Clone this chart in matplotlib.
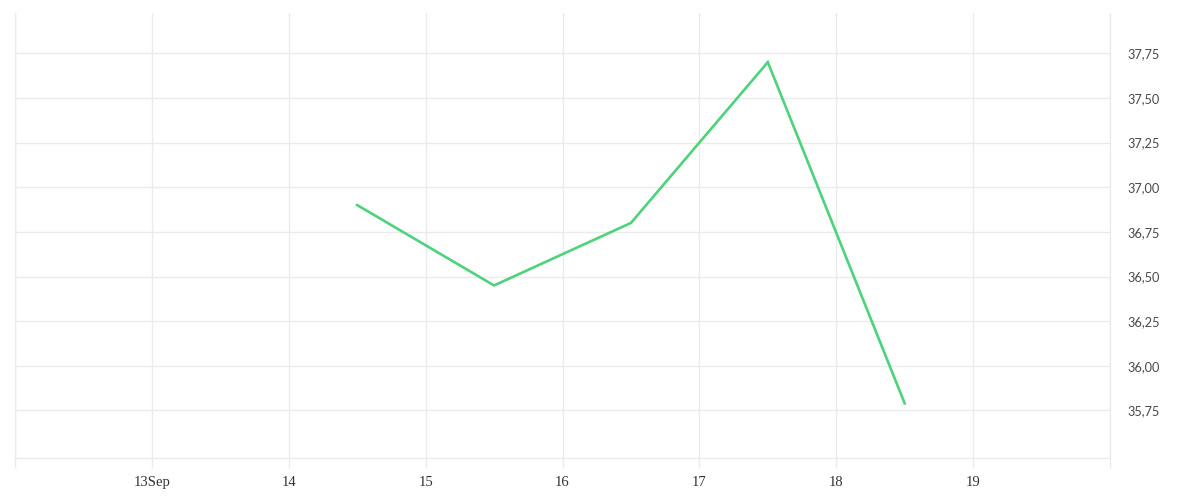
import matplotlib
matplotlib.use("Agg")
import matplotlib.pyplot as plt
from datetime import datetime

# Data
times = ["2023-09-14 12:00", "2023-09-15 12:00", "2023-09-16 12:00",
         "2023-09-17 12:00", "2023-09-18 12:00"]
values = [36.90, 36.45, 36.80, 37.70, 35.79]
x_ticks = ["2023-09-12", "2023-09-13", "2023-09-14", "2023-09-15", "2023-09-16",
           "2023-09-17", "2023-09-18", "2023-09-19", "2023-09-20"]
x_labels = ["", "13Sep", "14", "15", "16", "17", "18", "19", ""]
y_ticks = [35.75, 36.00, 36.25, 36.50, 36.75, 37.00, 37.25, 37.50, 37.75]

xs = [datetime.strptime(t, "%Y-%m-%d %H:%M") for t in times]
xt = [datetime.strptime(t, "%Y-%m-%d") for t in x_ticks]

fig = plt.figure(figsize=(12, 5), dpi=100)
ax = fig.add_axes([15/1200, 42/500, (1110-15)/1200, (458-12.7)/500])

grid_c = "#ebebeb"
ax.plot(xs, values, color="#4cd37b", lw=1.9, solid_joinstyle="miter", zorder=3)

ax.set_xlim(xt[0], xt[-1])
ax.set_ylim(35.484, 37.977)

ax.set_xticks(xt)
ax.set_xticklabels(x_labels, fontfamily="Liberation Serif", fontsize=10.5, color="#333333")
ax.tick_params(axis="x", length=7.2, width=1, color=grid_c, pad=6)

ax.yaxis.tick_right()
ax.set_yticks(y_ticks)
ax.set_yticklabels([f"{v:.2f}".replace(".", ",") for v in y_ticks],
                   fontfamily="Lato", fontsize=9.2, color="#4a4a4a")
ax.tick_params(axis="y", length=0, pad=12.5)

ax.grid(True, color=grid_c, lw=1)
ax.set_axisbelow(True)
ax.spines["top"].set_visible(False)
for s in ["left", "right", "bottom"]:
    ax.spines[s].set_color(grid_c)
    ax.spines[s].set_linewidth(1)

fig.savefig("out.png", dpi=100, facecolor="white")
